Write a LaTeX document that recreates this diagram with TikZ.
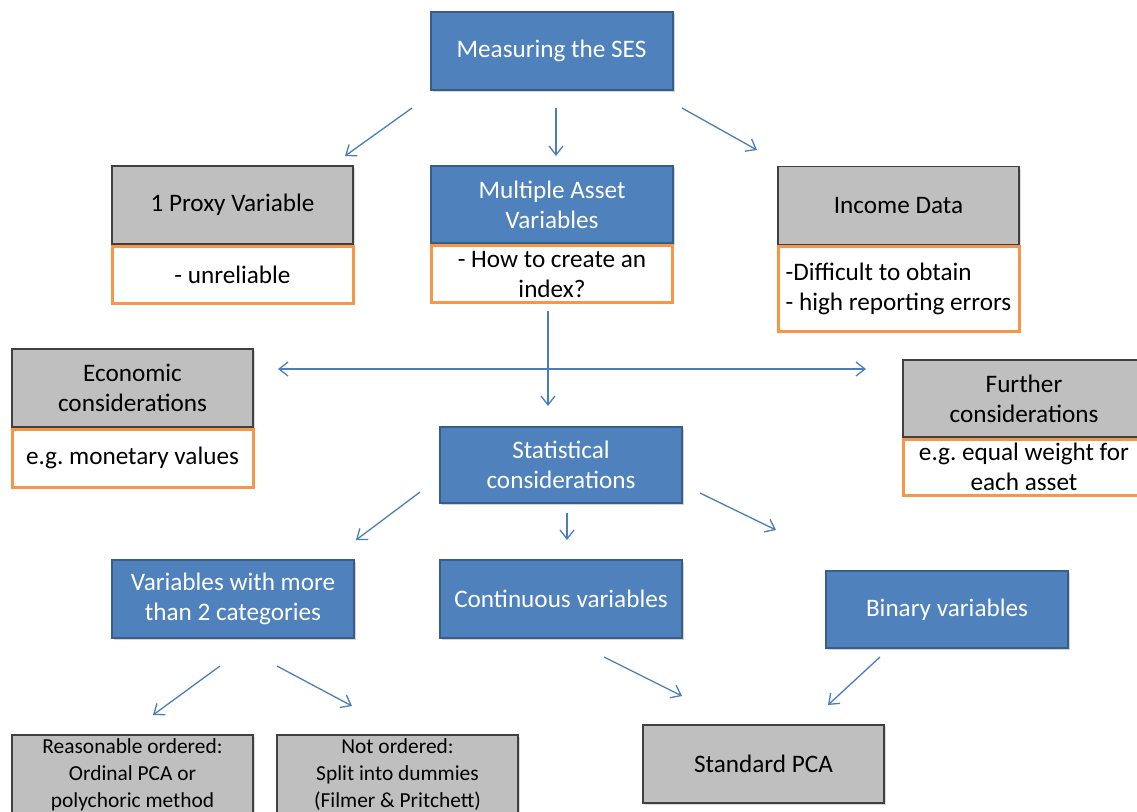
\documentclass[tikz,border=0pt]{standalone}
\usepackage{fontspec}
\setmainfont{Carlito}
\usepackage{tikz}
\usetikzlibrary{arrows.meta,positioning,shadows}
\definecolor{sesblue}{HTML}{4F81BD}
\definecolor{sesblueline}{HTML}{385D8A}
\definecolor{boxgrey}{HTML}{BFBFBF}
\definecolor{noteorange}{HTML}{F79646}
\definecolor{arrowblue}{HTML}{4A7EBB}
\frenchspacing

\begin{document}
\begin{tikzpicture}[
  x=0.5pt, y=-0.5pt,
  every node/.style={font=\fontsize{12.6}{15}\selectfont, align=center, inner sep=2pt},
  blue/.style={fill=sesblue, draw=sesblueline, line width=1pt, text=white,
               minimum width=121pt, minimum height=39pt,
               drop shadow={shadow xshift=1pt, shadow yshift=-1pt, opacity=0.35}},
  grey/.style={fill=boxgrey, draw=black!75, line width=0.6pt,
               minimum width=120.5pt, minimum height=39pt,
               drop shadow={shadow xshift=1pt, shadow yshift=-1pt, opacity=0.3}},
  note/.style={fill=white, draw=noteorange, line width=1.5pt,
               minimum width=120.5pt, minimum height=28.5pt},
  small/.style={font=\fontsize{10.7}{13.3}\selectfont},
  arr/.style={-{Straight Barb[length=4.5pt,width=7pt]}, line width=0.65pt, color=arrowblue},
]
  \useasboundingbox (0,0) rectangle (1137,811);

  % top level
  \node[blue] (meas) at (551.5,50.5) {Measuring the SES};

  \node[grey] (proxy) at (232.5,205) {1 Proxy Variable};
  \node[note, below=0pt of proxy] (proxynote) {- unreliable};
  \node[blue, minimum height=38.5pt] (multi) at (552,204.5) {Multiple Asset\\Variables};
  \node[note, below=0pt of multi] (multinote) {- How to create an\\index?};
  \node[grey] (income) at (898.5,205.5) {Income Data};
  \node[note, below=0pt of income, minimum height=42.5pt, align=left] (incomenote)
       {-Difficult to obtain\\- high reporting errors};

  % considerations
  \node[grey] (econ) at (132.5,388) {Economic\\considerations};
  \node[note, below=0pt of econ, minimum height=29pt] (econnote) {e.g. monetary values};
  \node[grey, minimum width=121pt, minimum height=38.5pt] (further) at (1024,398.5) {Further\\considerations};
  \node[note, below=0pt of further, minimum width=121pt, minimum height=28pt] (furthernote)
       {e.g. equal weight for\\each asset};
  \node[blue, minimum height=38pt] (stat) at (561,465) {Statistical\\considerations};

  % variable types
  \node[blue] (multicat) at (233,599) {Variables with more\\than 2 categories};
  \node[blue] (cont) at (561,599) {Continuous variables};
  \node[blue, minimum height=38.5pt] (binary) at (947,609.5) {Binary variables};

  % methods
  \node[grey, small, minimum height=43pt, text depth=6pt] (ordinal) at (132.5,779)
       {Reasonable ordered:\\Ordinal PCA or\\polychoric method};
  \node[grey, small, minimum height=43pt, text depth=6pt] (dummies) at (397.5,779)
       {Not ordered:\\Split into dummies\\(Filmer \& Pritchett)};
  \node[grey] (stdpca) at (763.5,764) {Standard PCA};

  % arrow ends
  \coordinate (m1) at (412,108);  \coordinate (p1) at (345,156);
  \coordinate (m2) at (556,108);  \coordinate (p2) at (556,156);
  \coordinate (m3) at (682,108);  \coordinate (p3) at (757,150);
  \coordinate (hl) at (278,369);  \coordinate (hr) at (866,369);
  \coordinate (v1) at (548,311);  \coordinate (v2) at (548,406);
  \coordinate (s1) at (420,492);  \coordinate (t1) at (356,540);
  \coordinate (s2) at (567,513);  \coordinate (t2) at (567,540);
  \coordinate (s3) at (700,493);  \coordinate (t3) at (776,530);
  \coordinate (c1) at (220,666);  \coordinate (d1) at (153,715);
  \coordinate (c2) at (277,666);  \coordinate (d2) at (352,706);
  \coordinate (c3) at (604,657);  \coordinate (d3) at (682,696);
  \coordinate (c4) at (880,657);  \coordinate (d4) at (828,705);

  \draw[arr] (m1) -- (p1);
  \draw[arr] (m2) -- (p2);
  \draw[arr] (m3) -- (p3);
  \draw[arr, {Straight Barb[length=4.5pt,width=7pt]}-{Straight Barb[length=4.5pt,width=7pt]}] (hl) -- (hr);
  \draw[arr] (v1) -- (v2);
  \draw[arr] (s1) -- (t1);
  \draw[arr] (s2) -- (t2);
  \draw[arr] (s3) -- (t3);
  \draw[arr] (c1) -- (d1);
  \draw[arr] (c2) -- (d2);
  \draw[arr] (c3) -- (d3);
  \draw[arr] (c4) -- (d4);
\end{tikzpicture}
\end{document}
